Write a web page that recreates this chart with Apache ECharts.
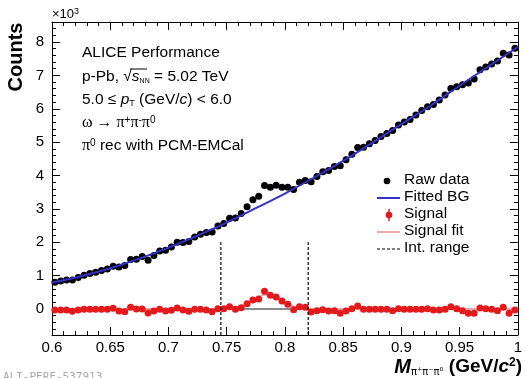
<!DOCTYPE html>
<html>
<head>
    <meta charset="utf-8"/>
    <title>omega -> pi+ pi- pi0, p-Pb</title>
    <script src="https://cdn.jsdelivr.net/npm/echarts@6/dist/echarts.min.js"></script>
    <style>
        html, body { margin: 0; padding: 0; background: #fff; }
        #main { width: 525px; height: 378px; }
    </style>
</head>
<body>
<div id="main"></div>
<script>
    // bin centres (GeV/c^2), 5 MeV bins
    var massBins = [
        0.6025, 0.6075, 0.6125, 0.6175, 0.6225, 0.6275, 0.6325, 0.6375, 0.6425, 0.6475,
        0.6525, 0.6575, 0.6625, 0.6675, 0.6725, 0.6775, 0.6825, 0.6875, 0.6925, 0.6975,
        0.7025, 0.7075, 0.7125, 0.7175, 0.7225, 0.7275, 0.7325, 0.7375, 0.7425, 0.7475,
        0.7525, 0.7575, 0.7625, 0.7675, 0.7725, 0.7775, 0.7825, 0.7875, 0.7925, 0.7975,
        0.8025, 0.8075, 0.8125, 0.8175, 0.8225, 0.8275, 0.8325, 0.8375, 0.8425, 0.8475,
        0.8525, 0.8575, 0.8625, 0.8675, 0.8725, 0.8775, 0.8825, 0.8875, 0.8925, 0.8975,
        0.9025, 0.9075, 0.9125, 0.9175, 0.9225, 0.9275, 0.9325, 0.9375, 0.9425, 0.9475,
        0.9525, 0.9575, 0.9625, 0.9675, 0.9725, 0.9775, 0.9825, 0.9875, 0.9925, 0.9975
    ];
    // counts x10^3
    var rawData = [
        0.80, 0.84, 0.87, 0.87, 0.94, 1.01, 1.06, 1.10, 1.15, 1.20,
        1.28, 1.26, 1.30, 1.48, 1.49, 1.57, 1.46, 1.60, 1.74, 1.76,
        1.86, 2.00, 1.99, 2.02, 2.16, 2.24, 2.29, 2.31, 2.49, 2.56,
        2.72, 2.73, 2.86, 3.06, 3.27, 3.38, 3.70, 3.65, 3.71, 3.65,
        3.65, 3.58, 3.80, 3.85, 3.81, 3.97, 4.11, 4.15, 4.27, 4.29,
        4.47, 4.64, 4.84, 4.85, 4.95, 5.05, 5.17, 5.26, 5.35, 5.51,
        5.60, 5.68, 5.81, 5.95, 6.06, 6.13, 6.26, 6.41, 6.61, 6.66,
        6.72, 6.77, 6.89, 7.17, 7.25, 7.34, 7.43, 7.66, 7.61, 7.81
    ];
    var signal = [
        -0.03, -0.03, -0.03, -0.07, -0.03, -0.01, -0.01, -0.01, -0.01, -0.01,
        0.02, -0.06, -0.08, 0.05, 0.00, 0.00, -0.12, -0.06, -0.01, -0.06,
        -0.04, 0.03, -0.03, -0.07, -0.01, -0.01, -0.03, -0.08, 0.01, 0.01,
        0.07, -0.01, 0.04, 0.16, 0.27, 0.30, 0.53, 0.41, 0.36, 0.24,
        0.14, -0.02, 0.07, 0.05, -0.09, -0.05, -0.02, -0.06, -0.05, -0.13,
        -0.06, 0.01, 0.09, -0.01, -0.01, -0.01, -0.01, -0.01, -0.05, 0.01,
        -0.01, -0.01, -0.01, -0.01, 0.01, -0.03, -0.03, -0.01, 0.07, 0.01,
        -0.05, -0.13, -0.13, 0.03, 0.01, -0.01, -0.05, 0.05, -0.13, -0.03
    ];
    // fitted background
    var bgX = [0.6, 0.625, 0.65, 0.675, 0.7, 0.725, 0.75, 0.775, 0.8, 0.825, 0.85, 0.875, 0.9, 0.925, 0.95, 0.975, 1.0];
    var bgY = [0.79, 0.98, 1.22, 1.51, 1.84, 2.20, 2.59, 3.02, 3.46, 3.94, 4.44, 4.98, 5.54, 6.09, 6.69, 7.27, 7.85];
    // signal fit
    var fitX = [0.6, 0.75, 0.755, 0.76, 0.765, 0.77, 0.775, 0.78, 0.785, 0.79, 0.795, 0.8, 0.805, 0.81, 0.815, 0.82, 0.83, 1.0];
    var fitY = [0, 0, 0.01, 0.04, 0.10, 0.19, 0.30, 0.40, 0.44, 0.40, 0.31, 0.20, 0.11, 0.05, 0.02, 0.005, 0, 0];
    // integration range
    var intRange = [0.745, 0.82];
    var intTop = 2.0;

    var xMajor = [0.6, 0.65, 0.7, 0.75, 0.8, 0.85, 0.9, 0.95, 1.0];
    var yMajor = [0, 1, 2, 3, 4, 5, 6, 7, 8];
    var xMin = 0.6, xMax = 1.0, yMin = -0.78, yMax = 8.6;

    var xMinor = [], yMinor = [];
    for (var i = 61; i < 100; i++) if (i % 5) xMinor.push(i / 100);
    for (var j = -3; j <= 43; j++) if (j % 5) yMinor.push(j / 5);

    var font = '"Liberation Sans", Arial, sans-serif';
    var serif = '"Liberation Serif", "Times New Roman", serif';

    function zip(xs, ys) {
        return xs.map(function (x, k) { return [x, ys[k]]; });
    }

    function axis(pos, min, max, ticks, len, line, labels) {
        var a = {
            type: 'value', position: pos, min: min, max: max,
            axisLine: { show: line, onZero: false, lineStyle: { color: '#000', width: 1 } },
            axisTick: { show: true, inside: true, length: len, customValues: ticks, lineStyle: { color: '#000', width: 1 } },
            axisLabel: { show: false },
            splitLine: { show: false }
        };
        if (labels) {
            a.axisLabel = {
                show: true, customValues: ticks, color: '#000', fontSize: 15, fontFamily: font,
                margin: pos === 'left' ? 8 : 5,
                formatter: function (v) { return String(+(+v).toFixed(2)); }
            };
        }
        return a;
    }

    var myChart = echarts.init(document.getElementById('main'));

    var series = [
        {   // baseline of the signal inside the integration window
            name: 'base', type: 'line', data: [[intRange[0], 0], [intRange[1], 0]],
            showSymbol: false, lineStyle: { color: '#8c8c8c', width: 2 }, z: 1
        },
        {
            name: 'Signal fit', type: 'line', data: zip(fitX, fitY), smooth: 0.4,
            showSymbol: false, lineStyle: { color: '#eeaaaa', width: 2 }, z: 2
        },
        {
            name: 'Raw data', type: 'scatter', data: zip(massBins, rawData),
            symbolSize: 7, itemStyle: { color: '#000', opacity: 1 }, z: 3
        },
        {
            name: 'Fitted BG', type: 'line', data: zip(bgX, bgY), smooth: 0.3,
            showSymbol: false, lineStyle: { color: '#3232c8', width: 2 }, z: 4
        },
        {
            name: 'Signal', type: 'scatter', data: zip(massBins, signal),
            symbolSize: 7, itemStyle: { color: '#e3191c', opacity: 1 }, z: 5
        }
    ];
    intRange.forEach(function (m) {
        series.push({
            name: 'Int. range', type: 'line', data: [[m, yMin], [m, intTop]],
            showSymbol: false, lineStyle: { color: '#000', width: 1.2, type: [3, 2] }, z: 6
        });
    });

    var option = {
        animation: false,
        grid: { left: 52, right: 3, top: 22, bottom: 43 },
        xAxis: [
            axis('bottom', xMin, xMax, xMajor, 8, true, true),
            axis('bottom', xMin, xMax, xMinor, 4, false, false),
            axis('top', xMin, xMax, xMajor, 8, true, false),
            axis('top', xMin, xMax, xMinor, 4, false, false)
        ],
        yAxis: [
            axis('left', yMin, yMax, yMajor, 8, true, true),
            axis('left', yMin, yMax, yMinor, 4, false, false),
            axis('right', yMin, yMax, yMajor, 8, true, false),
            axis('right', yMin, yMax, yMinor, 4, false, false)
        ],
        series: series,
        graphic: [
            { type: 'text', x: 52, y: 14, style: { text: '{n|×10}{s|3}', verticalAlign: 'middle',
                rich: { n: { fontSize: 13, fontFamily: font, fill: '#000' }, s: { fontSize: 9, fontFamily: font, verticalAlign: 'top', fill: '#000' } } } },
            { type: 'text', x: 16, y: 57, rotation: Math.PI / 2,
                style: { text: 'Counts', fontSize: 20, fontWeight: 'bold', fontFamily: font, fill: '#000', align: 'center', verticalAlign: 'middle' } },
            { type: 'text', x: 522, y: 367,
                style: { text: '{m|M}{sub|π⁺π⁻π⁰}{b| (GeV/}{bi|c}{sup|2}{b|)}', align: 'right', verticalAlign: 'middle',
                    rich: {
                        m: { fontSize: 20, fontWeight: 'bold', fontStyle: 'italic', fontFamily: font, fill: '#000' },
                        sub: { fontSize: 10, fontFamily: '"DejaVu Sans", sans-serif', verticalAlign: 'bottom', fill: '#000' },
                        b: { fontSize: 19, fontWeight: 'bold', fontFamily: font, fill: '#000' },
                        bi: { fontSize: 19, fontWeight: 'bold', fontStyle: 'italic', fontFamily: font, fill: '#000' },
                        sup: { fontSize: 12, fontWeight: 'bold', fontFamily: font, verticalAlign: 'top', fill: '#000' }
                    } } },
            { type: 'text', x: 3, y: 377,
                style: { text: 'ALI-PERF-537913', fontSize: 11, fontFamily: '"DejaVu Sans Mono", monospace', fill: '#a8a8a8', verticalAlign: 'middle' } },

            // info block
            { type: 'text', x: 82, y: 53, style: { text: 'ALICE Performance', fontSize: 15.5, fontFamily: font, fill: '#000', verticalAlign: 'middle' } },
            { type: 'text', x: 82, y: 77,
                style: { text: '{n|p-Pb, }{n|√}{i|s}{sub|NN}{n| = 5.02 TeV}', verticalAlign: 'middle',
                    rich: {
                        n: { fontSize: 15.5, fontFamily: font, fill: '#000' },
                        i: { fontSize: 15.5, fontStyle: 'italic', fontFamily: font, fill: '#000' },
                        sub: { fontSize: 7, fontFamily: font, verticalAlign: 'bottom', fill: '#000' }
                    } } },
            { type: 'line', shape: { x1: 130, y1: 69, x2: 147, y2: 69 }, style: { stroke: '#000', lineWidth: 1 } },
            { type: 'text', x: 82, y: 100,
                style: { text: '{n|5.0 ≤ }{i|p}{sub|T}{n| (GeV/}{i|c}{n|) < 6.0}', verticalAlign: 'middle',
                    rich: {
                        n: { fontSize: 15.5, fontFamily: font, fill: '#000' },
                        i: { fontSize: 15.5, fontStyle: 'italic', fontFamily: font, fill: '#000' },
                        sub: { fontSize: 9, fontFamily: font, verticalAlign: 'bottom', fill: '#000' }
                    } } },
            { type: 'text', x: 82, y: 123,
                style: { text: '{g|ω → π}{sup|+}{g|π}{sup|-}{g|π}{sup|0}', verticalAlign: 'middle',
                    rich: {
                        g: { fontSize: 16, fontFamily: serif, fill: '#000' },
                        sup: { fontSize: 10, fontFamily: font, verticalAlign: 'top', fill: '#000' }
                    } } },
            { type: 'text', x: 82, y: 146,
                style: { text: '{g|π}{sup|0}{n| rec with PCM-EMCal}', verticalAlign: 'middle',
                    rich: {
                        g: { fontSize: 16, fontFamily: serif, fill: '#000' },
                        sup: { fontSize: 10, fontFamily: font, verticalAlign: 'top', fill: '#000' },
                        n: { fontSize: 15.5, fontFamily: font, fill: '#000' }
                    } } },

            // legend
            { type: 'circle', shape: { cx: 387, cy: 181, r: 3.3 }, style: { fill: '#000' } },
            { type: 'text', x: 404, y: 180, style: { text: 'Raw data', fontSize: 15.5, fontFamily: font, fill: '#000', verticalAlign: 'middle' } },
            { type: 'line', shape: { x1: 377, y1: 198, x2: 400, y2: 198 }, style: { stroke: '#3232c8', lineWidth: 2 } },
            { type: 'text', x: 404, y: 197, style: { text: 'Fitted BG', fontSize: 15.5, fontFamily: font, fill: '#000', verticalAlign: 'middle' } },
            { type: 'line', shape: { x1: 389, y1: 209, x2: 389, y2: 221 }, style: { stroke: '#e3191c', lineWidth: 1.5 } },
            { type: 'circle', shape: { cx: 389, cy: 215, r: 3.3 }, style: { fill: '#e3191c' } },
            { type: 'text', x: 404, y: 214, style: { text: 'Signal', fontSize: 15.5, fontFamily: font, fill: '#000', verticalAlign: 'middle' } },
            { type: 'line', shape: { x1: 377, y1: 232, x2: 400, y2: 232 }, style: { stroke: '#eeaaaa', lineWidth: 2 } },
            { type: 'text', x: 404, y: 231, style: { text: 'Signal fit', fontSize: 15.5, fontFamily: font, fill: '#000', verticalAlign: 'middle' } },
            { type: 'line', shape: { x1: 377, y1: 249, x2: 400, y2: 249 }, style: { stroke: '#000', lineWidth: 1.2, lineDash: [3, 2] } },
            { type: 'text', x: 404, y: 248, style: { text: 'Int. range', fontSize: 15.5, fontFamily: font, fill: '#000', verticalAlign: 'middle' } }
        ]
    };

    myChart.setOption(option);

    window.onresize = function () {
        myChart.resize();
    };
</script>
</body>
</html>
